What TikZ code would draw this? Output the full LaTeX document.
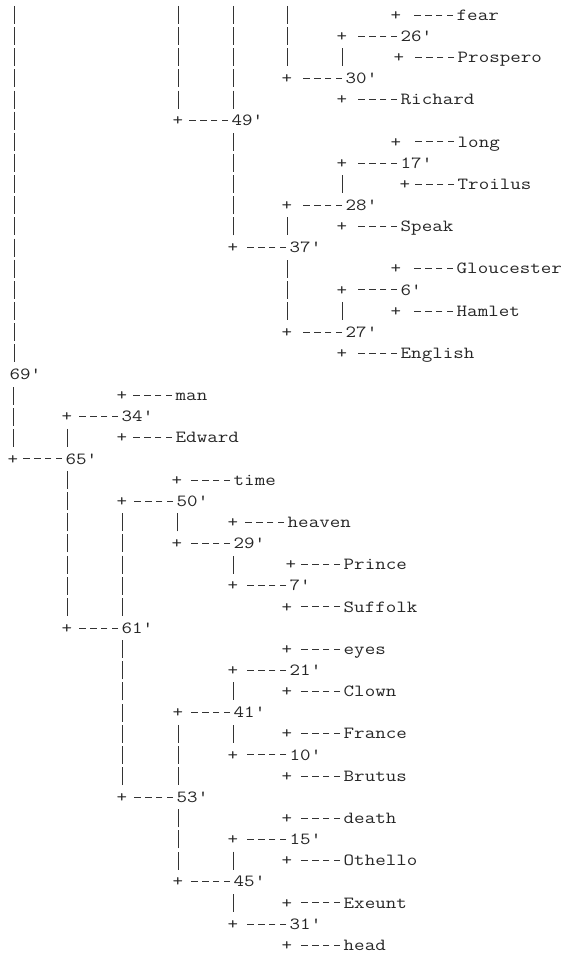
\documentclass[tikz,border=0pt]{standalone}
\usepackage{fontspec}
\usepackage{tikz}
\usetikzlibrary{calc}

\begin{document}
\begin{tikzpicture}[
  x=1pt, y=-21.14pt,
  % Tree text (typewriter, widened to the cell of the listing)
  lbl/.style={font=\fontsize{17}{20}\selectfont\ttfamily, text=black!85, anchor=west,
    inner sep=0pt, text height=10.4pt, text depth=0pt, xscale=1.2},
  % Junction plus
  jn/.style={lbl, anchor=center},
  % Four hyphens in front of a label
  dsh/.style={draw=black!80, line width=0.9pt, shorten <=3.5pt,
    dash pattern=on 6.5pt off 4.2pt on 6.5pt off 4.2pt on 6.5pt off 4.2pt on 6.5pt off 300pt},
  % Column of bars, one per line
  vbar/.style={draw=black!80, line width=0.9pt, shorten <=12.14pt, shorten >=12.14pt,
    dash pattern=on 18pt off 3.14pt}
]
\useasboundingbox (0,0.2904) rectangle (569,45.466);

%% Branches that come from above the cut
\coordinate (top1) at (14,0);
\coordinate (top2) at (178,0);
\coordinate (top3) at (233,0);
\coordinate (top4) at (287,0);

%% Upper part
\node[jn]  (jfear)       at (396,1)  {+};
\node[lbl] (fear)        at (456.5,1) {fear};
\node[jn]  (jc26)        at (342,2)  {+};
\node[lbl] (c26)         at (400.5,2) {26'};
\node[jn]  (jprospero)   at (399,3)  {+};
\node[lbl] (prospero)    at (457.5,3) {Prospero};
\node[jn]  (jc30)        at (287,4)  {+};
\node[lbl] (c30)         at (345.5,4) {30'};
\node[jn]  (jrichard)    at (342,5)  {+};
\node[lbl] (richard)     at (400.5,5) {Richard};
\node[jn]  (jc49)        at (178,6)  {+};
\node[lbl] (c49)         at (231.5,6) {49'};
\node[jn]  (jlong)       at (396,7)  {+};
\node[lbl] (long)        at (457.5,7) {long};
\node[jn]  (jc17)        at (342,8)  {+};
\node[lbl] (c17)         at (400.5,8) {17'};
\node[jn]  (jtroilus)    at (405,9)  {+};
\node[lbl] (troilus)     at (457.5,9) {Troilus};
\node[jn]  (jc28)        at (287,10) {+};
\node[lbl] (c28)         at (345.5,10) {28'};
\node[jn]  (jspeak)      at (342,11) {+};
\node[lbl] (speak)       at (400.5,11) {Speak};
\node[jn]  (jc37)        at (233,12) {+};
\node[lbl] (c37)         at (289.5,12) {37'};
\node[jn]  (jgloucester) at (396,13) {+};
\node[lbl] (gloucester)  at (456.5,13) {Gloucester};
\node[jn]  (jc6)         at (342,14) {+};
\node[lbl] (c6)          at (400.5,14) {6'};
\node[jn]  (jhamlet)     at (396,15) {+};
\node[lbl] (hamlet)      at (456.5,15) {Hamlet};
\node[jn]  (jc27)        at (287,16) {+};
\node[lbl] (c27)         at (345.5,16) {27'};
\node[jn]  (jenglish)    at (342,17) {+};
\node[lbl] (english)     at (400.5,17) {English};

%% Root of the visible part
\node[lbl] (c69)         at (9.5,18) {69'};

%% Lower part
\node[jn]  (jman)        at (122,19) {+};
\node[lbl] (man)         at (175.5,19) {man};
\node[jn]  (jc34)        at (67,20)  {+};
\node[lbl] (c34)         at (121.5,20) {34'};
\node[jn]  (jedward)     at (122,21) {+};
\node[lbl] (edward)      at (175.5,21) {Edward};
\node[jn]  (jc65)        at (13,22)  {+};
\node[lbl] (c65)         at (65.5,22) {65'};
\node[jn]  (jtime)       at (177,23) {+};
\node[lbl] (time)        at (233.5,23) {time};
\node[jn]  (jc50)        at (122,24) {+};
\node[lbl] (c50)         at (176.5,24) {50'};
\node[jn]  (jheaven)     at (233,25) {+};
\node[lbl] (heaven)      at (287.5,25) {heaven};
\node[jn]  (jc29)        at (177,26) {+};
\node[lbl] (c29)         at (233.5,26) {29'};
\node[jn]  (jprince)     at (291,27) {+};
\node[lbl] (prince)      at (343.5,27) {Prince};
\node[jn]  (jc7)         at (233,28) {+};
\node[lbl] (c7)          at (289.5,28) {7'};
\node[jn]  (jsuffolk)    at (287,29) {+};
\node[lbl] (suffolk)     at (343.5,29) {Suffolk};
\node[jn]  (jc61)        at (67,30)  {+};
\node[lbl] (c61)         at (121.5,30) {61'};
\node[jn]  (jeyes)       at (287,31) {+};
\node[lbl] (eyes)        at (343.5,31) {eyes};
\node[jn]  (jc21)        at (233,32) {+};
\node[lbl] (c21)         at (289.5,32) {21'};
\node[jn]  (jclown)      at (287,33) {+};
\node[lbl] (clown)       at (343.5,33) {Clown};
\node[jn]  (jc41)        at (178,34) {+};
\node[lbl] (c41)         at (233.5,34) {41'};
\node[jn]  (jfrance)     at (287,35) {+};
\node[lbl] (france)      at (343.5,35) {France};
\node[jn]  (jc10)        at (233,36) {+};
\node[lbl] (c10)         at (289.5,36) {10'};
\node[jn]  (jbrutus)     at (287,37) {+};
\node[lbl] (brutus)      at (343.5,37) {Brutus};
\node[jn]  (jc53)        at (122,38) {+};
\node[lbl] (c53)         at (176.5,38) {53'};
\node[jn]  (jdeath)      at (287,39) {+};
\node[lbl] (death)       at (343.5,39) {death};
\node[jn]  (jc15)        at (233,40) {+};
\node[lbl] (c15)         at (289.5,40) {15'};
\node[jn]  (jothello)    at (287,41) {+};
\node[lbl] (othello)     at (343.5,41) {Othello};
\node[jn]  (jc45)        at (178,42) {+};
\node[lbl] (c45)         at (233.5,42) {45'};
\node[jn]  (jexeunt)     at (287,43) {+};
\node[lbl] (exeunt)      at (343.5,43) {Exeunt};
\node[jn]  (jc31)        at (233,44) {+};
\node[lbl] (c31)         at (289.5,44) {31'};
\node[jn]  (jhead)       at (287,45) {+};
\node[lbl] (head)        at (343.5,45) {head};

%% Hyphens from each junction to its label
\foreach \n in {fear,c26,prospero,c30,richard,c49,long,c17,troilus,c28,speak,c37,
  gloucester,c6,hamlet,c27,english,man,c34,edward,c65,time,c50,heaven,c29,prince,
  c7,suffolk,c61,eyes,c21,clown,c41,france,c10,brutus,c53,death,c15,othello,c45,
  exeunt,c31,head}
  \draw[dsh] (\n.west) -- (j\n);

%% Bars from a child junction up or down to its parent's line
\foreach \a/\b in {top1/c69, top2/jc49, top3/c49, top4/jc30,
  jc26/c30, jc37/c49, jc28/c37, jc27/c37, jc17/c28, jc6/c27,
  jc65/c69, jc34/c65, jc61/c65, jc50/c61, jc53/c61, jc29/c50, jc7/c29,
  jc41/c53, jc45/c53, jc21/c41, jc10/c41, jc15/c45, jc31/c45}
  \draw[vbar] (\a.center) -- (\a.center |- \b.center);

\end{tikzpicture}
\end{document}
